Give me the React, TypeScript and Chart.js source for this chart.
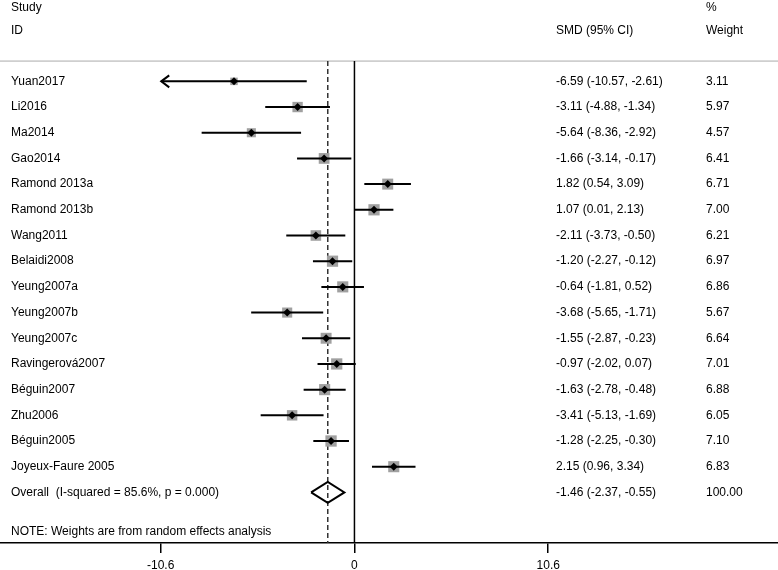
import React, { useEffect, useRef } from "react";
import { Chart, registerables } from "chart.js";

Chart.register(...registerables);

const studies = [
  "Yuan2017", "Li2016", "Ma2014", "Gao2014", "Ramond 2013a", "Ramond 2013b",
  "Wang2011", "Belaidi2008", "Yeung2007a", "Yeung2007b", "Yeung2007c",
  "Ravingerová2007", "Béguin2007", "Zhu2006", "Béguin2005", "Joyeux-Faure 2005",
];
const smd = [-6.59, -3.11, -5.64, -1.66, 1.82, 1.07, -2.11, -1.2, -0.64, -3.68, -1.55, -0.97, -1.63, -3.41, -1.28, 2.15];
const lower = [-10.57, -4.88, -8.36, -3.14, 0.54, 0.01, -3.73, -2.27, -1.81, -5.65, -2.87, -2.02, -2.78, -5.13, -2.25, 0.96];
const upper = [-2.61, -1.34, -2.92, -0.17, 3.09, 2.13, -0.5, -0.12, 0.52, -1.71, -0.23, 0.07, -0.48, -1.69, -0.3, 3.34];
const weights = [3.11, 5.97, 4.57, 6.41, 6.71, 7.0, 6.21, 6.97, 6.86, 5.67, 6.64, 7.01, 6.88, 6.05, 7.1, 6.83];

const overallLabel = "Overall  (I-squared = 85.6%, p = 0.000)";
const overall = { est: -1.46, lo: -2.37, hi: -0.55, weight: 100.0 };
const noteText = "NOTE: Weights are from random effects analysis";
const xTickValues = [-10.6, 0, 10.6];
const axisLimit = 10.6;

const FONT = '"Liberation Sans", Arial, Helvetica, sans-serif';

const fmt = (v: number) => v.toFixed(2);

export default function App() {
  const ref = useRef<HTMLCanvasElement | null>(null);

  useEffect(() => {
    document.body.style.margin = "0";
    const canvas = ref.current;
    if (!canvas) return;

    const X_MIN = -19.39;
    const X_MAX = 23.17;
    const Y_MIN = -3.167;
    const Y_MAX = 17.97;
    const HEADER_LINE = -0.79;
    const overallRow = studies.length;
    const diamondHalf = 0.41;

    const ciPoints: any[] = [];
    studies.forEach((_, i) => {
      ciPoints.push({ x: lower[i], y: i });
      ciPoints.push({ x: upper[i], y: i });
      ciPoints.push({ x: upper[i], y: null });
    });

    const squarePoints = studies.map((_, i) => ({ x: smd[i], y: i }));
    const squareRadii = weights.map((w) => 3.0 * Math.sqrt(w));
    const centerPoints = studies.map((_, i) => ({ x: smd[i], y: i }));

    const diamond = [
      { x: overall.lo, y: overallRow },
      { x: overall.est, y: overallRow - diamondHalf },
      { x: overall.hi, y: overallRow },
      { x: overall.est, y: overallRow + diamondHalf },
      { x: overall.lo, y: overallRow },
    ];

    const textPlugin = {
      id: "forestText",
      afterDatasetsDraw(chart: any) {
        const { ctx, scales } = chart;
        const ys = scales.y;
        const xs = scales.x;
        ctx.save();
        // arrowheads for CIs reaching the axis limit
        ctx.strokeStyle = "#000";
        ctx.lineWidth = 2;
        studies.forEach((_, i) => {
          if (lower[i] <= -axisLimit + 0.05) {
            const px = xs.getPixelForValue(lower[i]);
            const py = ys.getPixelForValue(i);
            ctx.beginPath();
            ctx.moveTo(px + 8, py - 6);
            ctx.lineTo(px, py);
            ctx.lineTo(px + 8, py + 6);
            ctx.stroke();
          }
        });
        ctx.fillStyle = "#000";
        ctx.font = `12px ${FONT}`;
        ctx.textBaseline = "middle";
        ctx.textAlign = "left";
        const colName = 11;
        const colSmd = 556;
        const colW = 706;
        const yHead1 = ys.getPixelForValue(-2.88);
        const yHead2 = ys.getPixelForValue(-1.96);
        ctx.fillText("Study", colName, yHead1);
        ctx.fillText("ID", colName, yHead2);
        ctx.fillText("SMD (95% CI)", colSmd, yHead2);
        ctx.fillText("%", colW, yHead1);
        ctx.fillText("Weight", colW, yHead2);
        studies.forEach((name, i) => {
          const py = ys.getPixelForValue(i);
          ctx.fillText(name, colName, py);
          ctx.fillText(`${fmt(smd[i])} (${fmt(lower[i])}, ${fmt(upper[i])})`, colSmd, py);
          ctx.fillText(fmt(weights[i]), colW, py);
        });
        const po = ys.getPixelForValue(overallRow);
        ctx.fillText(overallLabel, colName, po);
        ctx.fillText(`${fmt(overall.est)} (${fmt(overall.lo)}, ${fmt(overall.hi)})`, colSmd, po);
        ctx.fillText(fmt(overall.weight), colW, po);
        ctx.fillText(noteText, colName, ys.getPixelForValue(overallRow + 1.52));
        ctx.restore();
      },
    };

    const chart = new Chart(canvas, {
      type: "scatter",
      data: {
        datasets: [
          {
            data: centerPoints,
            pointStyle: "rectRot",
            pointRadius: 4,
            backgroundColor: "#000",
            borderWidth: 0,
            order: 0,
          } as any,
          {
            data: ciPoints,
            showLine: true,
            spanGaps: false,
            borderColor: "#000",
            borderWidth: 2,
            pointRadius: 0,
            order: 1,
          },
          {
            data: squarePoints,
            pointStyle: "rect",
            pointRadius: squareRadii,
            backgroundColor: "#a0a0a0",
            borderWidth: 0,
            order: 2,
          },
          {
            data: diamond,
            showLine: true,
            borderColor: "#000",
            borderWidth: 2,
            pointRadius: 0,
            fill: false,
            order: 3,
          },
          {
            data: [
              { x: overall.est, y: HEADER_LINE },
              { x: overall.est, y: Y_MAX },
            ],
            showLine: true,
            borderColor: "#333",
            borderWidth: 1.5,
            borderDash: [5, 3],
            pointRadius: 0,
            order: 4,
          },
          {
            data: [
              { x: 0, y: HEADER_LINE },
              { x: 0, y: Y_MAX },
            ],
            showLine: true,
            borderColor: "#000",
            borderWidth: 1.5,
            pointRadius: 0,
            order: 5,
          },
          {
            data: [
              { x: X_MIN, y: HEADER_LINE },
              { x: X_MAX, y: HEADER_LINE },
            ],
            showLine: true,
            borderColor: "#aaaaaa",
            borderWidth: 1,
            pointRadius: 0,
            order: 6,
          },
        ],
      },
      options: {
        animation: false,
        responsive: true,
        maintainAspectRatio: false,
        layout: { padding: 0, autoPadding: false } as any,
        plugins: { legend: { display: false }, tooltip: { enabled: false } },
        scales: {
          x: {
            type: "linear",
            min: X_MIN,
            max: X_MAX,
            afterBuildTicks: (scale: any) => {
              scale.ticks = xTickValues.map((v) => ({ value: v }));
            },
            afterFit: (scale: any) => {
              scale.paddingLeft = 0;
              scale.paddingRight = 0;
              scale.height = 27;
            },
            ticks: {
              color: "#000",
              font: { family: FONT, size: 12 },
              padding: 5,
              callback: (v: any) => String(v),
            },
            grid: {
              display: true,
              drawOnChartArea: false,
              drawTicks: true,
              tickLength: 10,
              color: "#000",
              lineWidth: 1.5,
            },
            border: { display: true, color: "#000", width: 1.5 },
          },
          y: {
            type: "linear",
            display: false,
            reverse: true,
            min: Y_MIN,
            max: Y_MAX,
          },
        },
      },
      plugins: [textPlugin],
    });

    return () => chart.destroy();
  }, []);

  return (
    <div style={{ width: 778, height: 570, position: "relative" }}>
      <canvas ref={ref} />
    </div>
  );
}
